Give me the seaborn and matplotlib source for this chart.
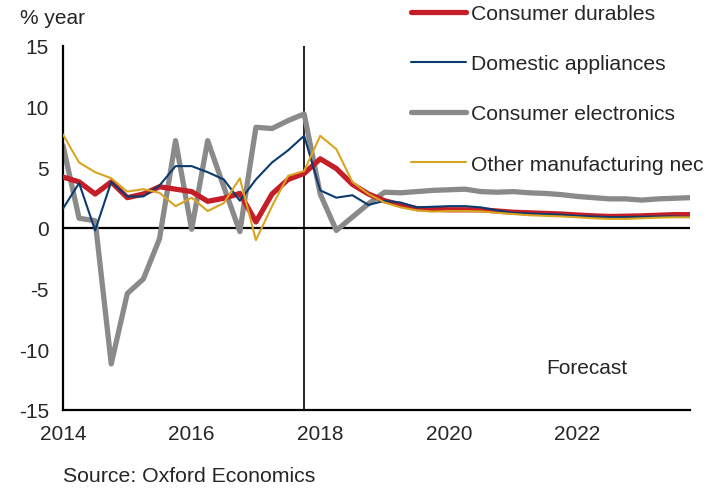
import numpy as np
import pandas as pd
import seaborn as sns
import matplotlib.pyplot as plt

# quarterly, 2014Q1 .. 2023Q4
quarters = np.arange(2014, 2024, 0.25)

consumer_durables = [
    4.2, 3.8, 2.8, 3.8, 2.5, 2.8, 3.4, 3.2, 3.0, 2.2,
    2.45, 2.85, 0.5, 2.8, 4.0, 4.5, 5.7, 4.9, 3.6, 2.8,
    2.25, 1.9, 1.6, 1.55, 1.5, 1.5, 1.5, 1.4, 1.3, 1.25,
    1.2, 1.15, 1.07, 1.0, 0.95, 0.97, 1.0, 1.05, 1.1, 1.1,
]
domestic_appliances = [
    1.6, 3.7, -0.2, 3.8, 2.6, 2.6, 3.5, 5.1, 5.1, 4.6,
    4.0, 2.25, 4.0, 5.4, 6.4, 7.6, 3.1, 2.5, 2.7, 1.9,
    2.25, 2.1, 1.7, 1.75, 1.8, 1.8, 1.7, 1.45, 1.25, 1.2,
    1.15, 1.1, 1.0, 0.95, 0.9, 0.9, 0.93, 0.95, 0.95, 0.9,
]
consumer_electronics = [
    6.8, 0.8, 0.6, -11.2, -5.4, -4.2, -0.9, 7.2, -0.1, 7.2,
    3.4, -0.3, 8.3, 8.2, 8.85, 9.4, 2.8, -0.2, 0.9, 2.0,
    2.95, 2.9, 3.0, 3.1, 3.15, 3.2, 3.0, 2.95, 3.0, 2.9,
    2.85, 2.75, 2.6, 2.5, 2.4, 2.4, 2.3, 2.4, 2.45, 2.5,
]
other_manufacturing = [
    7.7, 5.4, 4.6, 4.1, 3.0, 3.2, 2.9, 1.8, 2.5, 1.4,
    2.05, 4.1, -1.0, 1.8, 4.3, 4.7, 7.6, 6.5, 3.8, 2.8,
    2.1, 1.7, 1.45, 1.35, 1.4, 1.4, 1.37, 1.25, 1.15, 1.05,
    1.0, 0.95, 0.88, 0.8, 0.75, 0.75, 0.8, 0.85, 0.88, 0.88,
]

names = ["Consumer durables", "Domestic appliances",
         "Consumer electronics", "Other manufacturing nec"]
colors = ["#C41E28", "#0C3B6E", "#8A8A8A", "#D9A520"]
widths = [3.8, 1.5, 3.8, 1.5]

df = pd.DataFrame({
    "quarter": quarters,
    names[0]: consumer_durables,
    names[1]: domestic_appliances,
    names[2]: consumer_electronics,
    names[3]: other_manufacturing,
})
long_df = df.melt(id_vars="quarter", var_name="series", value_name="value")

sns.set_style("white")
plt.rcParams["font.family"] = ["Liberation Sans", "DejaVu Sans"]
plt.rcParams["font.size"] = 15
plt.rcParams["axes.unicode_minus"] = False

fig = plt.figure(figsize=(7.23, 4.89), dpi=100)
ax = fig.add_axes([63 / 723, 1 - 411 / 489, 627 / 723, 364 / 489])

ax.axhline(0, color="black", lw=1.6, zorder=1)
ax.axvline(2017.75, color="black", lw=1.2, zorder=1)

# draw electronics + durables under the thin lines, as in the original
order = [2, 0, 1, 3]
for i in order:
    sub = long_df[long_df["series"] == names[i]]
    sns.lineplot(data=sub, x="quarter", y="value", ax=ax, color=colors[i],
                 linewidth=widths[i], label=names[i], legend=False,
                 solid_capstyle="round", zorder=2 + order.index(i))

ax.set_xlim(2014, 2023.75)
ax.set_ylim(-15, 15)
ax.set_yticks(range(-15, 16, 5))
ax.set_xticks(range(2014, 2024))
ax.set_xticklabels([str(y) if y % 2 == 0 else "" for y in range(2014, 2024)])
ax.set_xlabel("")
ax.set_ylabel("")
ax.tick_params(axis="both", direction="out", length=6, width=1.6,
               color="black", labelsize=15, pad=4)

for s in ["top", "right"]:
    ax.spines[s].set_visible(False)
for s in ["left", "bottom"]:
    ax.spines[s].set_color("black")
    ax.spines[s].set_linewidth(1.6)

handles = [plt.Line2D([], [], color=colors[i], lw=widths[i],
                      solid_capstyle="round") for i in range(4)]
fig.legend(handles, names, loc="upper left",
           bbox_to_anchor=(411 / 723, 1 - 5 / 489), frameon=False,
           borderpad=0, borderaxespad=0, handlelength=2.6,
           handletextpad=0.25, labelspacing=1.48, fontsize=15.2)

fig.text(20 / 723, 1 - 18 / 489, "% year", fontsize=15, va="center")
ax.text(2021.52, -11.5, "Forecast", fontsize=15, va="center")
fig.text(63 / 723, 1 - 477 / 489, "Source: Oxford Economics",
         fontsize=15.3, va="center")

fig.savefig("out.png", dpi=100)
